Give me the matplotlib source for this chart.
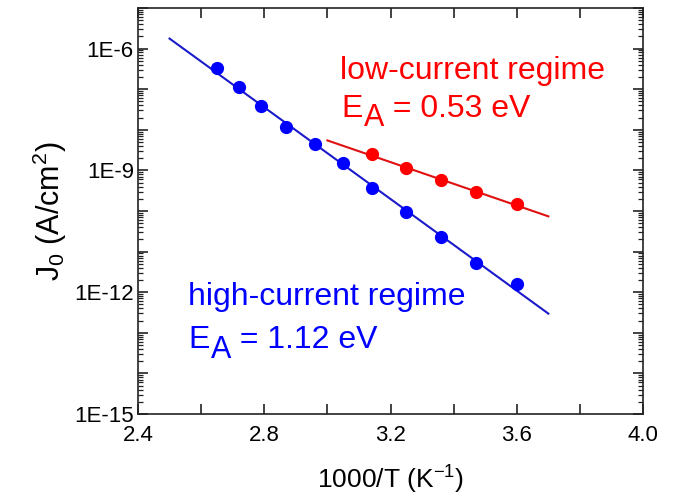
import numpy as np
import matplotlib
matplotlib.use("Agg")
import matplotlib.pyplot as plt
from matplotlib.ticker import FixedLocator, FuncFormatter, LogLocator, NullFormatter

plt.rcParams["font.family"] = ["Liberation Sans", "DejaVu Sans"]
plt.rcParams["mathtext.fontset"] = "custom"
plt.rcParams["mathtext.rm"] = "Liberation Sans"
plt.rcParams["mathtext.it"] = "Liberation Sans"

# Arrhenius data: saturation current density vs inverse temperature
inv_T = [2.65, 2.72, 2.79, 2.87, 2.96, 3.05, 3.14, 3.25, 3.36, 3.47, 3.60]
J0_high = [3.4e-7, 1.1e-7, 3.75e-8, 1.14e-8, 4.4e-9, 1.48e-9,
           3.6e-10, 9.3e-11, 2.24e-11, 5.1e-12, 1.6e-12]

inv_T_low = [3.14, 3.25, 3.36, 3.47, 3.60]
J0_low = [2.48e-9, 1.12e-9, 5.7e-10, 2.9e-10, 1.46e-10]

Ea_high = 1.12  # eV
Ea_low = 0.53   # eV
fit_high_range = [2.5, 3.7]
fit_low_range = [3.0, 3.7]

k_B = 8.617e-5  # eV/K


def arrhenius_fit(x, y, Ea, xr):
    """Line with slope fixed by the activation energy, intercept fitted."""
    slope = -Ea / (k_B * np.log(10) * 1000.0)
    x = np.asarray(x)
    ly = np.log10(y)
    b = np.mean(ly - slope * x)
    xs = np.array(xr)
    return xs, 10 ** (slope * xs + b)


fig = plt.figure(figsize=(6.78, 4.97), dpi=100)
ax = fig.add_axes([0.2035, 0.167, 0.745, 0.817])

blue = "#0000ff"
red = "#ff0000"

xs, ys = arrhenius_fit(inv_T, J0_high, Ea_high, fit_high_range)
ax.plot(xs, ys, color="#1a1acc", lw=1.5, zorder=2)
ax.plot(inv_T, J0_high, "o", color=blue, ms=8.5, mec=blue, zorder=3)

xs, ys = arrhenius_fit(inv_T_low, J0_low, Ea_low, fit_low_range)
ax.plot(xs, ys, color="#e01010", lw=1.5, zorder=2)
ax.plot(inv_T_low, J0_low, "o", color=red, ms=8.5, mec=red, zorder=3)

ax.set_yscale("log")
ax.set_xlim(2.4, 4.0)
ax.set_ylim(1e-15, 1e-5)

ax.xaxis.set_major_locator(FixedLocator(np.round(np.arange(2.4, 4.01, 0.2), 1)))
ax.xaxis.set_major_formatter(
    FuncFormatter(lambda v, p: f"{v:.1f}" if round(v * 10) % 4 == 0 else ""))

ax.yaxis.set_major_locator(FixedLocator([10.0 ** e for e in range(-15, -4)]))


def ylab(v, p):
    e = int(round(np.log10(v)))
    return f"1E{e}" if e % 3 == 0 and e < -5 else ""


ax.yaxis.set_major_formatter(FuncFormatter(ylab))
ax.yaxis.set_minor_locator(LogLocator(base=10, subs=np.arange(2, 10), numticks=30))
ax.yaxis.set_minor_formatter(NullFormatter())

ax.tick_params(axis="both", which="major", direction="in", top=True, right=True,
               length=7, width=1.2, color="#222222", labelsize=16)
ax.tick_params(axis="y", which="minor", direction="in", right=True,
               length=3.5, width=0.9, color="#222222")
ax.tick_params(axis="x", pad=8)
ax.tick_params(axis="y", pad=3)

for s in ax.spines.values():
    s.set_linewidth(1.2)
    s.set_color("#222222")

ax.set_xlabel(r"1000/T (K$^{\mathregular{-1}}$)", fontsize=19, labelpad=13)
ax.set_ylabel(r"J$_{\mathregular{0}}$ (A/cm$^{\mathregular{2}}$)", fontsize=22, labelpad=4)


def energy_label(x, y, value, color):
    """Write 'E_A = value' with a large, lowered subscript A."""
    e = ax.text(x, y, "E", color=color, fontsize=23, va="bottom", ha="left")
    a = ax.annotate("A", xy=(1, 0), xycoords=e, xytext=(0.5, -7),
                    textcoords="offset points", color=color, fontsize=22,
                    va="bottom", ha="left")
    ax.annotate(f" = {value} eV", xy=(1, 0), xycoords=a, xytext=(0, 7),
                textcoords="offset points", color=color, fontsize=23,
                va="bottom", ha="left")


ax.text(3.04, 10 ** -6.74, "low-current regime", color=red, fontsize=23,
        va="baseline", ha="left")
energy_label(3.045, 10 ** -7.85, f"{Ea_low:.2f}", red)

ax.text(2.558, 10 ** -12.32, "high-current regime", color=blue, fontsize=23,
        va="baseline", ha="left")
energy_label(2.56, 10 ** -13.55, f"{Ea_high:.2f}", blue)

fig.savefig("out.png", dpi=100)
